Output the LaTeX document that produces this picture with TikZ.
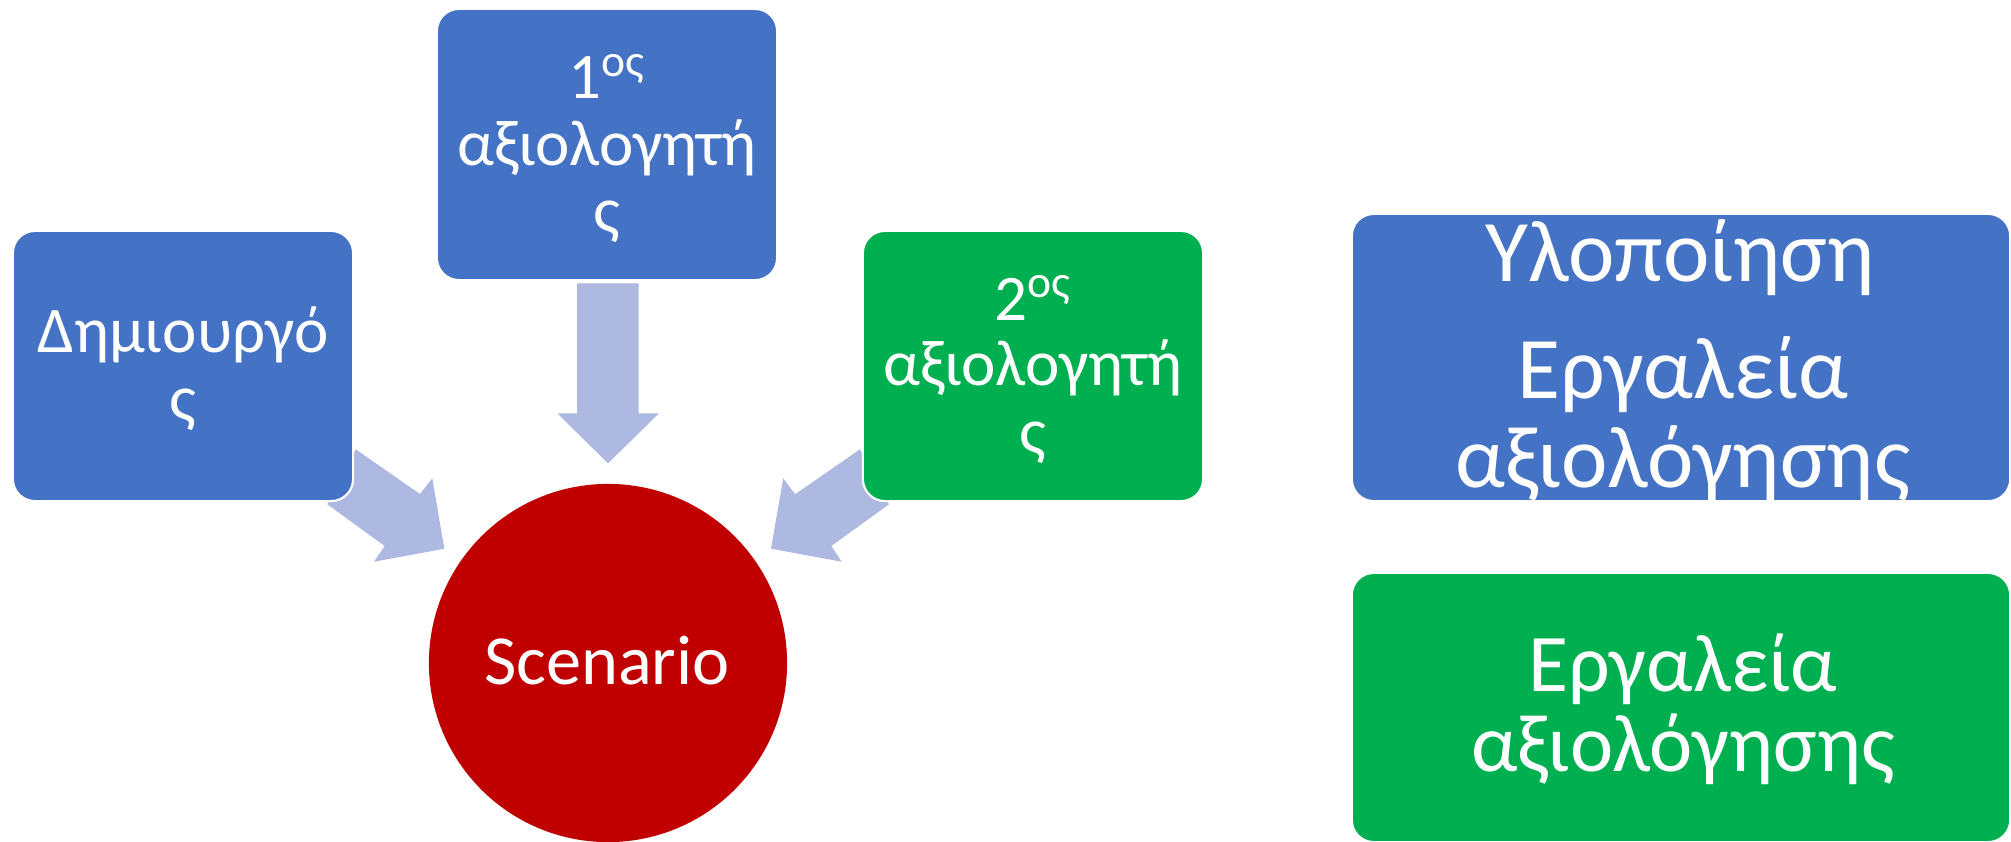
\documentclass[tikz,border=0pt]{standalone}
\usepackage{fontspec}
\setmainfont{Carlito}
\definecolor{boxblue}{HTML}{4472C4}
\definecolor{boxgreen}{HTML}{00B050}
\definecolor{scenred}{HTML}{C00000}
\definecolor{arrowblue}{HTML}{ADB9E0}
\begin{document}
\begin{tikzpicture}[x=0.01cm,y=-0.01cm,
  box/.style={rounded corners=0.22cm, draw=white, line width=0.6pt, inner sep=0pt},
  bluebox/.style={box, fill=boxblue},
  greenbox/.style={box, fill=boxgreen},
  blockarrow/.style={fill=arrowblue},
  smalltxt/.style={text=white, font=\fontsize{18.5}{20}\selectfont, anchor=base, inner sep=0pt},
  bigtxt/.style={text=white, font=\fontsize{25}{27}\selectfont, anchor=base, inner sep=0pt},
  midtxt/.style={text=white, font=\fontsize{23.3}{25}\selectfont, anchor=base, inner sep=0pt},
  scentxt/.style={text=white, font=\fontsize{20}{22}\selectfont, anchor=base, inner sep=0pt}
]
\fill[white] (0,0) rectangle (2011,842);
\useasboundingbox (0,0) rectangle (2011,842);

% block arrows
\fill[blockarrow] (577,283.3) -- (638.7,283.3) -- (638.7,413.3) -- (659,413.3) -- (608,463.3) -- (557.3,413.3) -- (577,413.3) -- cycle;
\fill[blockarrow] (355.7,449.3) -- (420,494) -- (432.3,478.3) -- (444.3,548.7) -- (374,561.7) -- (384.7,546) -- (327.3,504.3) -- cycle;
\fill[blockarrow] (860,449.3) -- (795,494.3) -- (783.3,478.3) -- (771,548.7) -- (841.7,561.7) -- (831.3,546) -- (889,504.3) -- cycle;

% boxes
\node[bluebox, minimum width=3.40cm, minimum height=2.70cm] (creator) at (183,366) {};
\node[bluebox, minimum width=3.40cm, minimum height=2.71cm] (eval1) at (607,144.5) {};
\node[greenbox, minimum width=3.40cm, minimum height=2.70cm] (eval2) at (1033,366) {};
\node[circle, fill=scenred, minimum size=3.58cm, inner sep=0pt] (scen) at (608,663) {};
\node[bluebox, minimum width=6.58cm, minimum height=2.87cm] (impl) at (1681,357.5) {};
\node[greenbox, minimum width=6.58cm, minimum height=2.69cm] (tools) at (1681,707.5) {};

% texts
\node[smalltxt] (creatorA) at (183,352.7) {Δημιουργό};
\node[smalltxt] (creatorB) at (183,420) {ς};
\node[smalltxt] (evalA) at (607,98.3) {1\textsuperscript{ος}};
\node[smalltxt] (evalB) at (607,165) {αξιολογητή};
\node[smalltxt] (evalC) at (607,232) {ς};
\node[smalltxt] (evalbA) at (1033,320) {2\textsuperscript{ος}};
\node[smalltxt] (evalbB) at (1033,385.7) {αξιολογητή};
\node[smalltxt] (evalbC) at (1033,453) {ς};
\node[scentxt] (scentext) at (607,684) {Scenario};
\node[bigtxt] (implA) at (1680,281) {Υλοποίηση};
\node[bigtxt] (implB) at (1683,398) {Εργαλεία};
\node[bigtxt] (implC) at (1683,487) {αξιολόγησης};
\node[midtxt] (toolsA) at (1683,691.5) {Εργαλεία};
\node[midtxt] (toolsB) at (1683,771) {αξιολόγησης};
\end{tikzpicture}
\end{document}
